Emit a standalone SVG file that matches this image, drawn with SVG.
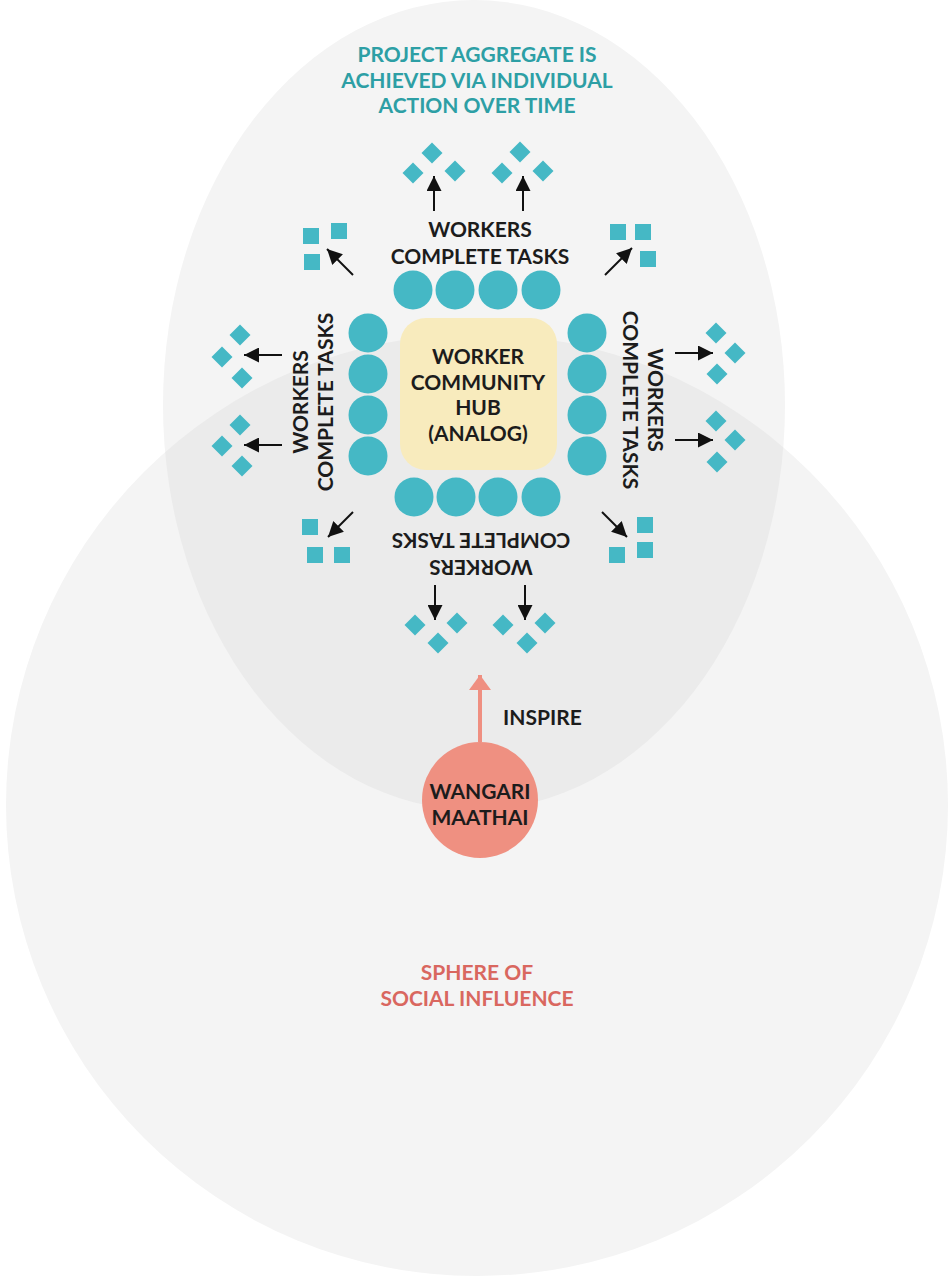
<svg xmlns="http://www.w3.org/2000/svg" xmlns:xlink="http://www.w3.org/1999/xlink" width="952" height="1278" viewBox="0 0 952 1278">
  <style>
    text { font-family: Lato, "Open Sans", "Liberation Sans", sans-serif; font-weight: 700; font-size: 21px; }
    .dark { fill: #1c1c1c; }
    .mid { text-anchor: middle; }
    .title { fill: #2d9fa5; }
    .sphere-label { fill: #d9675f; }
    .teal { fill: #45b8c5; }
    .arrow { stroke: #111; stroke-width: 2; fill: none; marker-end: url(#head); }
  </style>
  <defs>
    <marker id="head" viewBox="0 0 15 15" refX="15" refY="7.5" markerWidth="15" markerHeight="15" markerUnits="userSpaceOnUse" orient="auto">
      <path d="M0,0 L15,7.5 L0,15 Z" fill="#111"/>
    </marker>
    <marker id="headSalmon" viewBox="0 0 15 22" refX="15" refY="11" markerWidth="15" markerHeight="22" markerUnits="userSpaceOnUse" orient="auto">
      <path d="M0,0 L15,11 L0,22 Z" fill="#ef8f81"/>
    </marker>
    <path id="dm" d="M0,-10.5 L10.5,0 L0,10.5 L-10.5,0 Z"/>
    <rect id="sq" x="-8" y="-8" width="16" height="16"/>
    <clipPath id="circleClip">
      <circle cx="477" cy="805" r="471"/>
    </clipPath>
  </defs>

  <rect width="952" height="1278" fill="#ffffff"/>

  <!-- overlapping spheres -->
  <g id="spheres">
    <circle cx="477" cy="805" r="471" fill="#f4f4f4"/>
    <ellipse cx="474" cy="405" rx="311" ry="405" fill="#f4f4f4"/>
    <ellipse cx="474" cy="405" rx="311" ry="405" fill="#ebebeb" clip-path="url(#circleClip)"/>
  </g>

  <g id="title">
    <text class="title mid" x="477" y="61.5">PROJECT AGGREGATE IS</text>
    <text class="title mid" x="477" y="87.5">ACHIEVED VIA INDIVIDUAL</text>
    <text class="title mid" x="477" y="113">ACTION OVER TIME</text>
  </g>

  <!-- central hub -->
  <g id="hub">
    <rect x="400" y="318" width="157" height="152" rx="26" fill="#f8ebbd"/>
    <text class="dark mid" x="478" y="364">WORKER</text>
    <text class="dark mid" x="478" y="389.5">COMMUNITY</text>
    <text class="dark mid" x="478" y="415">HUB</text>
    <text class="dark mid" x="478" y="440.5">(ANALOG)</text>
  </g>

  <!-- workers around the hub -->
  <g id="workers" class="teal">
    <circle cx="413" cy="290" r="19.5"/>
    <circle cx="455" cy="290" r="19.5"/>
    <circle cx="498" cy="290" r="19.5"/>
    <circle cx="541" cy="290" r="19.5"/>
    <circle cx="414" cy="497" r="19.5"/>
    <circle cx="456" cy="497" r="19.5"/>
    <circle cx="498" cy="497" r="19.5"/>
    <circle cx="541" cy="497" r="19.5"/>
    <circle cx="368" cy="333" r="19.5"/>
    <circle cx="368" cy="374" r="19.5"/>
    <circle cx="368" cy="415" r="19.5"/>
    <circle cx="368" cy="456" r="19.5"/>
    <circle cx="587" cy="333" r="19.5"/>
    <circle cx="587" cy="374" r="19.5"/>
    <circle cx="587" cy="415" r="19.5"/>
    <circle cx="587" cy="456" r="19.5"/>
  </g>

  <!-- task labels on four sides -->
  <g id="label-top">
    <text class="dark mid" x="480" y="236.5">WORKERS</text>
    <text class="dark mid" x="480" y="263.5">COMPLETE TASKS</text>
  </g>
  <g id="label-left">
    <text class="dark mid" transform="translate(307.5,402) rotate(-90)">WORKERS</text>
    <text class="dark mid" transform="translate(332.5,402) rotate(-90)">COMPLETE TASKS</text>
  </g>
  <g id="label-right">
    <text class="dark mid" transform="translate(647.5,400) rotate(90)">WORKERS</text>
    <text class="dark mid" transform="translate(622.5,400) rotate(90)">COMPLETE TASKS</text>
  </g>
  <g id="label-bottom">
    <text class="dark mid" transform="translate(481,559.5) rotate(180)">WORKERS</text>
    <text class="dark mid" transform="translate(481,532.5) rotate(180)">COMPLETE TASKS</text>
  </g>

  <!-- completed task clusters -->
  <g id="tasks-top" class="teal">
    <use xlink:href="#dm" x="432" y="153"/>
    <use xlink:href="#dm" x="413" y="173"/>
    <use xlink:href="#dm" x="455" y="171"/>
    <use xlink:href="#dm" x="520" y="152"/>
    <use xlink:href="#dm" x="502" y="173"/>
    <use xlink:href="#dm" x="543" y="171"/>
  </g>
  <g id="tasks-left" class="teal">
    <use xlink:href="#dm" x="240" y="335"/>
    <use xlink:href="#dm" x="222" y="357"/>
    <use xlink:href="#dm" x="242" y="378"/>
    <use xlink:href="#dm" x="240" y="425"/>
    <use xlink:href="#dm" x="222" y="446"/>
    <use xlink:href="#dm" x="242" y="466"/>
  </g>
  <g id="tasks-right" class="teal">
    <use xlink:href="#dm" x="716" y="333"/>
    <use xlink:href="#dm" x="735" y="353"/>
    <use xlink:href="#dm" x="717" y="374"/>
    <use xlink:href="#dm" x="716" y="421"/>
    <use xlink:href="#dm" x="735" y="440"/>
    <use xlink:href="#dm" x="717" y="462"/>
  </g>
  <g id="tasks-bottom" class="teal">
    <use xlink:href="#dm" x="415" y="625"/>
    <use xlink:href="#dm" x="457" y="623"/>
    <use xlink:href="#dm" x="438" y="643"/>
    <use xlink:href="#dm" x="503" y="625"/>
    <use xlink:href="#dm" x="545" y="623"/>
    <use xlink:href="#dm" x="527" y="643"/>
  </g>
  <g id="tasks-corners" class="teal">
    <use xlink:href="#sq" x="311" y="236"/>
    <use xlink:href="#sq" x="339" y="231"/>
    <use xlink:href="#sq" x="312" y="262"/>
    <use xlink:href="#sq" x="618" y="232"/>
    <use xlink:href="#sq" x="643" y="232"/>
    <use xlink:href="#sq" x="648" y="259"/>
    <use xlink:href="#sq" x="310" y="527"/>
    <use xlink:href="#sq" x="315" y="555"/>
    <use xlink:href="#sq" x="342" y="555"/>
    <use xlink:href="#sq" x="645" y="525"/>
    <use xlink:href="#sq" x="645" y="550"/>
    <use xlink:href="#sq" x="617" y="555"/>
  </g>

  <!-- connectors -->
  <g id="connectors">
    <line class="arrow" x1="434" y1="211" x2="434" y2="176"/>
    <line class="arrow" x1="523" y1="211" x2="523" y2="176"/>
    <line class="arrow" x1="353" y1="275" x2="327" y2="249"/>
    <line class="arrow" x1="605" y1="275" x2="632" y2="248"/>
    <line class="arrow" x1="282" y1="355" x2="244" y2="355"/>
    <line class="arrow" x1="282" y1="445" x2="244" y2="445"/>
    <line class="arrow" x1="675" y1="353" x2="713" y2="353"/>
    <line class="arrow" x1="675" y1="440" x2="713" y2="440"/>
    <line class="arrow" x1="353" y1="512" x2="328" y2="537"/>
    <line class="arrow" x1="602" y1="512" x2="627" y2="537"/>
    <line class="arrow" x1="435" y1="585" x2="435" y2="620"/>
    <line class="arrow" x1="525" y1="585" x2="525" y2="620"/>
    <line x1="480" y1="742" x2="480" y2="675" stroke="#ef8f81" stroke-width="4" marker-end="url(#headSalmon)"/>
  </g>

  <g id="inspire-label">
    <text class="dark" x="503" y="725">INSPIRE</text>
  </g>

  <g id="wangari">
    <circle cx="480" cy="800" r="58" fill="#ef9081"/>
    <text class="dark mid" x="480" y="799">WANGARI</text>
    <text class="dark mid" x="480" y="824.5">MAATHAI</text>
  </g>

  <g id="sphere-label">
    <text class="sphere-label mid" x="477" y="979.5">SPHERE OF</text>
    <text class="sphere-label mid" x="477" y="1005.5">SOCIAL INFLUENCE</text>
  </g>
</svg>
